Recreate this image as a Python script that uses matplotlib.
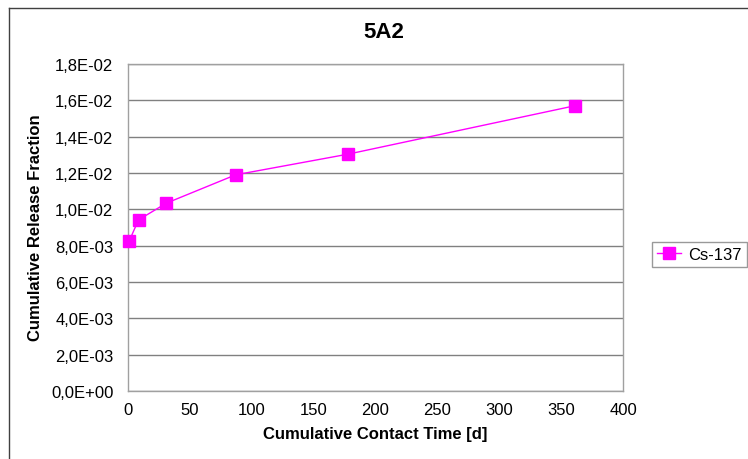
import matplotlib
matplotlib.use("Agg")
import matplotlib.pyplot as plt
from matplotlib.ticker import FuncFormatter, MultipleLocator
from matplotlib.lines import Line2D

plt.rcParams['font.family'] = ['Liberation Sans', 'DejaVu Sans']

title = "5A2"
x_label = "Cumulative Contact Time [d]"
y_label = "Cumulative Release Fraction"
series_name = "Cs-137"
days = [1, 8.5, 31, 87, 178, 361]
release = [0.00826, 0.00942, 0.01034, 0.0119, 0.01304, 0.0157]

W, H = 748, 460
fig = plt.figure(figsize=(W/100, H/100), dpi=100)
ax = fig.add_axes([128/W, 1-392/H, (623-128)/W, (392-65)/H])

ax.plot(days, release, color='#FF00FF', marker='s', markersize=8.5, linewidth=1,
        label=series_name, clip_on=False, zorder=3)

ax.set_xlim(0, 400)
ax.set_ylim(0, 0.018)
ax.xaxis.set_major_locator(MultipleLocator(50))
ax.yaxis.set_major_locator(MultipleLocator(0.002))

def yfmt(v, pos):
    s = "%.1E" % v
    return s.replace('.', ',')
ax.yaxis.set_major_formatter(FuncFormatter(yfmt))

ax.grid(axis='y', color='#808080', linewidth=1)
ax.set_axisbelow(True)
for sp in ax.spines.values():
    sp.set_color('#A0A0A0')
    sp.set_linewidth(1)
ax.tick_params(axis='x', length=0, labelsize=12, pad=8)
ax.tick_params(axis='y', length=0, labelsize=12, pad=10.5)

fig.text(384/W, 1-33/H, title, fontsize=16, fontweight='bold', ha='center', va='center')
ax.set_xlabel(x_label, fontsize=12, fontweight='bold')
ax.set_ylabel(y_label, fontsize=12, fontweight='bold')
ax.xaxis.label.set_va('center')
ax.yaxis.label.set_va('center')
ax.xaxis.set_label_coords(375.5/W, 1-435/H, transform=fig.transFigure)
ax.yaxis.set_label_coords(36/W, 1-228/H, transform=fig.transFigure)

leg = ax.legend(loc='center left', bbox_to_anchor=(652/W, 1-255.5/H),
                bbox_transform=fig.transFigure, frameon=True, fancybox=False,
                fontsize=12, handlelength=1.45, borderpad=0.3, handletextpad=0.42,
                borderaxespad=0, markerscale=1)
leg.get_frame().set_edgecolor('#808080')
leg.get_frame().set_linewidth(1)

# outer chart border
fig.add_artist(Line2D([9/W, 9/W], [0, 1-9/H], color='#404040', linewidth=1, transform=fig.transFigure))
fig.add_artist(Line2D([9/W, 1], [1-9/H, 1-9/H], color='#404040', linewidth=1, transform=fig.transFigure))

fig.savefig("out.png", dpi=100)
